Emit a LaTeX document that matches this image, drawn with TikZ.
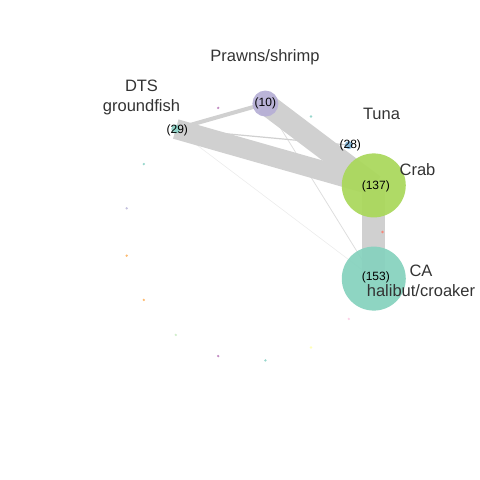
\documentclass[tikz,border=0pt]{standalone}
\usepackage{fontspec}
\setmainfont{Liberation Sans}
\usetikzlibrary{backgrounds}
\definecolor{cTeal}{HTML}{8DD3C7}
\definecolor{cYellow}{HTML}{FFFFB3}
\definecolor{cLav}{HTML}{BEBADA}
\definecolor{cRed}{HTML}{FB8072}
\definecolor{cBlue}{HTML}{80B1D3}
\definecolor{cOrange}{HTML}{FDB462}
\definecolor{cLime}{RGB}{170,216,92}
\definecolor{cCA}{RGB}{135,210,190}
\definecolor{cPr}{RGB}{183,176,214}
\definecolor{cPink}{HTML}{FCCDE5}
\definecolor{cPurple}{HTML}{BC80BD}
\definecolor{cLgreen}{HTML}{CCEBC5}
\definecolor{edgeC}{RGB}{208,208,208}
\definecolor{edgeL}{RGB}{222,222,222}
\definecolor{edgeVL}{RGB}{236,236,236}
\definecolor{labC}{RGB}{51,51,51}
\tikzset{
  vert/.style={circle, inner sep=0pt, draw=none, fill opacity=0.94},
  num/.style={font=\fontsize{12}{12}\selectfont, text=black, inner sep=0pt},
  dot/.style={circle, inner sep=0pt, minimum size=2.6pt, draw=none, fill opacity=0.9},
  lab/.style={font=\fontsize{16.5}{20}\selectfont, text=labC, align=center, inner sep=0pt},
  edge/.style={draw=edgeC, line cap=butt}
}
\begin{document}
\begin{tikzpicture}[x=1pt,y=-1pt]
\useasboundingbox (0,0) rectangle (480,480);
\foreach \k in {0,...,16}
  \coordinate (p\k) at ([shift={(253.5,232)}]{\k*360/17}:129);
% big nodes
\node[vert, fill=cCA, minimum size=64pt] (ca) at (p1) {};
\node[vert, fill=cLime, minimum size=64pt] (crab) at (p16) {};
\node[vert, fill=cPr, minimum size=26pt] (prawns) at (p13) {};
\node[vert, fill=cTeal, minimum size=9pt] (dts) at (p11) {};
\node[vert, fill=cBlue, minimum size=8pt] (tuna) at (p15) {};
\node[num] (nca) at ([shift={(2,-1)}]ca.center) {(153)};
\node[num] (ncrab) at ([shift={(2,1)}]crab.center) {(137)};
\node[num] (nprawns) at (prawns.center) {(10)};
\node[num] (ndts) at ([shift={(1.5,1)}]dts.center) {(29)};
\node[num] (ntuna) at ([shift={(1.5,0.5)}]tuna.center) {(28)};
% small dots
\node[dot, fill=cRed] (d0) at (p0) {};
\node[dot, fill=cPink] (d2) at (p2) {};
\node[dot, fill=cYellow] (d3) at (p3) {};
\node[dot, fill=cTeal] (d4) at (p4) {};
\node[dot, fill=cPurple] (d5) at (p5) {};
\node[dot, fill=cLgreen] (d6) at (p6) {};
\node[dot, fill=cOrange] (d7) at (p7) {};
\node[dot, fill=cOrange] (d8) at (p8) {};
\node[dot, fill=cLav] (d9) at (p9) {};
\node[dot, fill=cTeal] (d10) at (p10) {};
\node[dot, fill=cPurple] (d12) at (p12) {};
\node[dot, fill=cTeal] (d14) at (p14) {};
% edges
\begin{pgfonlayer}{background}
\draw[edge, draw=edgeVL, line width=0.6pt] (dts.center) -- (ca.center);
\draw[edge, draw=edgeL, line width=0.8pt] (prawns.center) -- (ca.center);
\draw[edge, line width=1.2pt] (dts.center) -- (tuna.center);
\draw[edge, line width=4pt] (dts.center) -- (prawns.center);
\draw[edge, line width=20pt] (dts.center) -- (crab.center);
\draw[edge, line width=22pt] (prawns.center) -- (crab.center);
\draw[edge, line width=23pt] (crab.center) -- (ca.center);
\end{pgfonlayer}
% labels
\node[lab] (lprawns) at (265,57) {Prawns/shrimp};
\node[lab] (ldts) at (141.5,97) {DTS\\groundfish};
\node[lab] (ltuna) at (381.5,114) {Tuna};
\node[lab] (lcrab) at (417.5,170) {Crab};
\node[lab] (lca) at (421,280.5) {CA\\halibut/croaker};
\end{tikzpicture}
\end{document}
